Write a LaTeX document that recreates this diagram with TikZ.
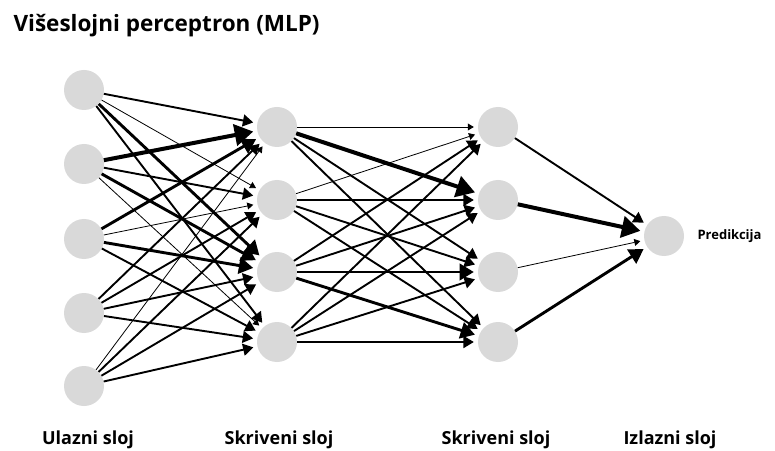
\documentclass[tikz,border=0pt]{standalone}
\usepackage{fontspec}
\setmainfont{Open Sans}
\usepackage{tikz}
\usetikzlibrary{arrows.meta}
\usetikzlibrary{positioning}
\tikzset{
    neuron/.style={
           circle,
           fill=nodegray,
           minimum size=40pt,
           inner sep=0pt,
           },
    layerlabel/.style={
           font=\fontsize{18}{21}\selectfont\bfseries,
           },
    wthin/.style={line width=0.8pt},
    wmed/.style={line width=1.9pt},
    wthick/.style={line width=2.9pt},
    wheavy/.style={line width=4pt},
}
\definecolor{nodegray}{RGB}{217,217,217}

\begin{document}
\begin{tikzpicture}
[
x=1pt,y=1pt,
->,>={Triangle[scale=1.25]},
shorten >=4pt
]
 \useasboundingbox (0,0) rectangle (775,450);

 % title
 \node[anchor=base west,font=\fontsize{22.5}{26}\selectfont\bfseries] (TITLE) at (10,418)
 {Višeslojni perceptron (MLP)};

 % INPUT LAYER
 \node[neuron] (I1) at (84,360) {};
 \node[neuron, below of=I1, node distance=74pt] (I2) {};
 \node[neuron, below of=I2, node distance=75pt] (I3) {};
 \node[neuron, below of=I3, node distance=74pt] (I4) {};
 \node[neuron, below of=I4, node distance=73pt] (I5) {};

 % HIDDEN LAYER 1
 \node[neuron] (H1) at (277,323) {};
 \node[neuron, below of=H1, node distance=73pt] (H2) {};
 \node[neuron, below of=H2, node distance=72pt] (H3) {};
 \node[neuron, below of=H3, node distance=70pt] (H4) {};

 % HIDDEN LAYER 2
 \node[neuron, right of=H1, node distance=221pt] (G1) {};
 \node[neuron, right of=H2, node distance=221pt] (G2) {};
 \node[neuron, right of=H3, node distance=221pt] (G3) {};
 \node[neuron, right of=H4, node distance=221pt] (G4) {};

 % OUTPUT
 \node[neuron] (OUT) at (664,214) {};
 \node[anchor=west, font=\fontsize{13}{15}\selectfont\bfseries] (PRED) at (694,214) {Predikcija};

 % layer names
 \node[layerlabel] (LIN) at (88,10) {Ulazni sloj};
 \node[layerlabel] (LH1) at (279,10) {Skriveni sloj};
 \node[layerlabel] (LH2) at (496,10) {Skriveni sloj};
 \node[layerlabel] (LOUT) at (670,10) {Izlazni sloj};

 % input -> hidden 1
 \path
  (I1) edge[wmed] (H1)
  (I1) edge[wthin] (H2)
  (I1) edge[wthick] (H3)
  (I1) edge[wmed] (H4)
  (I2) edge[wheavy] (H1)
  (I2) edge[wmed] (H2)
  (I2) edge[wthick] (H3)
  (I2) edge[wthin] (H4)
  (I3) edge[wthick] (H1)
  (I3) edge[wthin] (H2)
  (I3) edge[wthick] (H3)
  (I3) edge[wmed] (H4)
  (I4) edge[wmed] (H1)
  (I4) edge[wmed] (H2)
  (I4) edge[wmed] (H3)
  (I4) edge[wmed] (H4)
  (I5) edge[wthin] (H1)
  (I5) edge[wmed] (H2)
  (I5) edge[wmed] (H3)
  (I5) edge[wmed] (H4)
 ;

 % hidden 1 -> hidden 2
 \path
  (H1) edge[wthin] (G1)
  (H1) edge[wheavy] (G2)
  (H1) edge[wmed] (G3)
  (H1) edge[wmed] (G4)
  (H2) edge[wthin] (G1)
  (H2) edge[wmed] (G2)
  (H2) edge[wmed] (G3)
  (H2) edge[wmed] (G4)
  (H3) edge[wmed] (G1)
  (H3) edge[wmed] (G2)
  (H3) edge[wthick] (G3)
  (H3) edge[wthick] (G4)
  (H4) edge[wmed] (G1)
  (H4) edge[wmed] (G2)
  (H4) edge[wmed] (G3)
  (H4) edge[wmed] (G4)
 ;

 % hidden 2 -> output
 \path
  (G1) edge[wmed] (OUT)
  (G2) edge[wheavy] (OUT)
  (G3) edge[wthin] (OUT)
  (G4) edge[wthick] (OUT)
 ;
\end{tikzpicture}
\end{document}
